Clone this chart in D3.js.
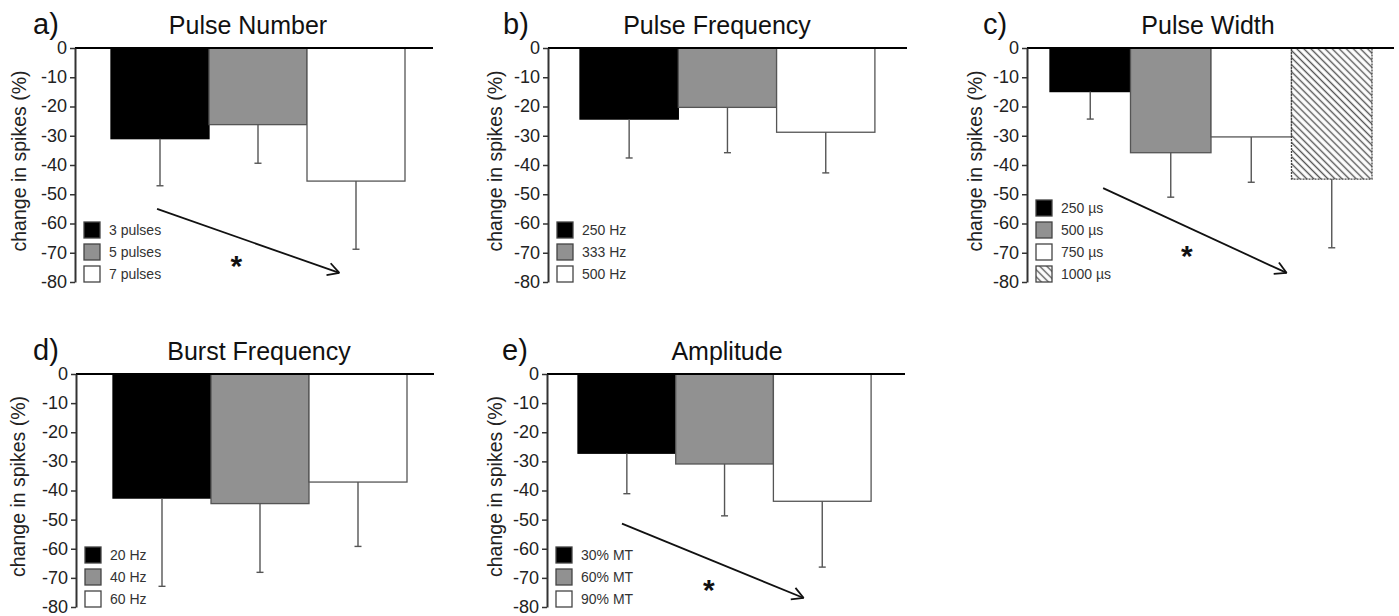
<!DOCTYPE html>
<html>
<head>
<meta charset="utf-8">
<script src="https://cdn.jsdelivr.net/npm/d3@7"></script>
<style>
  body { margin: 0; background: #fff; }
  svg { display: block; }
  text { font-family: "Liberation Sans", Arial, sans-serif; }
</style>
</head>
<body>
<div id="chart"></div>
<script>
// values (bar mean, and lower end of the error bar)
var yTicks = [0, -10, -20, -30, -40, -50, -60, -70, -80];

var numberCats = ["3 pulses", "5 pulses", "7 pulses"];
var numberMean = [-31, -26.2, -45.5];
var numberErr = [-47.1, -39.4, -68.8];

var freqCats = ["250 Hz", "333 Hz", "500 Hz"];
var freqMean = [-24.3, -20.3, -28.8];
var freqErr = [-37.6, -35.8, -42.7];

var widthCats = ["250 µs", "500 µs", "750 µs", "1000 µs"];
var widthMean = [-14.9, -35.8, -30.4, -44.8];
var widthErr = [-24.3, -51, -45.9, -68.3];

var burstCats = ["20 Hz", "40 Hz", "60 Hz"];
var burstMean = [-42.6, -44.5, -37.1];
var burstErr = [-72.9, -68.1, -59.2];

var ampCats = ["30% MT", "60% MT", "90% MT"];
var ampMean = [-27.2, -30.9, -43.7];
var ampErr = [-41.1, -48.7, -66.3];

var svgWidth = 1399;
var svgHeight = 616;

var svg = d3.select("#chart")
  .append("svg")
  .attr("width", svgWidth)
  .attr("height", svgHeight);

// hatch for the 1000 µs bar
var defs = svg.append("defs");
var hatch = defs.append("pattern")
  .attr("id", "hatch")
  .attr("patternUnits", "userSpaceOnUse")
  .attr("width", 5)
  .attr("height", 5)
  .attr("patternTransform", "rotate(45)");
hatch.append("rect").attr("width", 5).attr("height", 5).attr("fill", "#fff");
hatch.append("line")
  .attr("x1", 0).attr("y1", 2.5).attr("x2", 5).attr("y2", 2.5)
  .attr("stroke", "#555").attr("stroke-width", 1.4);

var fills = ["#000", "#919191", "#fff", "url(#hatch)"];
var strokes = ["#000", "#555", "#555", "#444"];

// layout for each panel (pixels)
var panels = [
  { tag: "a)", title: "Pulse Number", cats: numberCats, mean: numberMean, err: numberErr,
    axisX: 75, top: 48, bottom: 282, barX: 111, barW: 98, lineEnd: 433,
    tagX: 33, titleX: 248, labelX: 19,
    arrow: { x1: 0.47, y1: -55, x2: 2.33, y2: -76.9, sx: 1.28, sy: -72.5 } },
  { tag: "b)", title: "Pulse Frequency", cats: freqCats, mean: freqMean, err: freqErr,
    axisX: 548, top: 48, bottom: 282, barX: 580, barW: 98.3, lineEnd: 907,
    tagX: 503, titleX: 717, labelX: 495 },
  { tag: "c)", title: "Pulse Width", cats: widthCats, mean: widthMean, err: widthErr,
    axisX: 1027, top: 48, bottom: 282, barX: 1050, barW: 80.5, lineEnd: 1394,
    tagX: 983, titleX: 1208, labelX: 975,
    arrow: { x1: 0.66, y1: -47.9, x2: 2.94, y2: -76.9, sx: 1.7, sy: -69 } },
  { tag: "d)", title: "Burst Frequency", cats: burstCats, mean: burstMean, err: burstErr,
    axisX: 76, top: 374, bottom: 607, barX: 113, barW: 98, lineEnd: 434,
    tagX: 33, titleX: 259, labelX: 18 },
  { tag: "e)", title: "Amplitude", cats: ampCats, mean: ampMean, err: ampErr,
    axisX: 547, top: 374, bottom: 607, barX: 578, barW: 97.7, lineEnd: 905,
    tagX: 502, titleX: 727, labelX: 495,
    arrow: { x1: 0.45, y1: -51.4, x2: 2.31, y2: -76.9, sx: 1.34, sy: -72.2 } }
];

panels.forEach(function(p) {
  var g = svg.append("g");

  var y = d3.scaleLinear().domain([0, -80]).range([p.top, p.bottom]);
  var x = d3.scaleBand()
    .domain(p.cats)
    .range([p.barX, p.barX + p.barW * p.cats.length])
    .padding(0);
  // band units -> pixels, for the trend arrows
  var xb = d3.scaleLinear().domain([0, 1]).range([p.barX, p.barX + x.bandwidth()]);

  var data = p.cats.map(function(c, i) {
    return { cat: c, mean: p.mean[i], err: p.err[i], i: i };
  });

  // bars
  g.selectAll("rect.bar")
    .data(data)
    .enter()
    .append("rect")
    .attr("class", "bar")
    .attr("x", d => x(d.cat))
    .attr("y", y(0))
    .attr("width", x.bandwidth())
    .attr("height", d => y(d.mean) - y(0))
    .attr("fill", d => fills[d.i])
    .attr("stroke", d => strokes[d.i])
    .attr("stroke-width", 1.3)
    .attr("stroke-dasharray", d => d.i == 3 ? "2,1" : null);

  // error bars
  g.selectAll("line.err")
    .data(data)
    .enter()
    .append("line")
    .attr("x1", d => x(d.cat) + x.bandwidth() / 2)
    .attr("x2", d => x(d.cat) + x.bandwidth() / 2)
    .attr("y1", d => y(d.mean))
    .attr("y2", d => y(d.err))
    .attr("stroke", "#555")
    .attr("stroke-width", 1.4);

  g.selectAll("line.cap")
    .data(data)
    .enter()
    .append("line")
    .attr("x1", d => x(d.cat) + x.bandwidth() / 2 - 3.5)
    .attr("x2", d => x(d.cat) + x.bandwidth() / 2 + 3.5)
    .attr("y1", d => y(d.err))
    .attr("y2", d => y(d.err))
    .attr("stroke", "#555")
    .attr("stroke-width", 1.4);

  // zero line
  g.append("line")
    .attr("x1", p.axisX)
    .attr("x2", p.lineEnd)
    .attr("y1", y(0))
    .attr("y2", y(0))
    .attr("stroke", "#000")
    .attr("stroke-width", 2);

  // y axis
  var leftAxis = d3.axisLeft(y)
    .tickValues(yTicks)
    .tickSize(5)
    .tickSizeOuter(0)
    .tickPadding(3)
    .tickFormat(d3.format("d"));

  var ax = g.append("g")
    .attr("transform", `translate(${p.axisX}, 0)`)
    .call(leftAxis);
  ax.select(".domain").attr("stroke", "#333").attr("stroke-width", 2);
  ax.selectAll(".tick line").attr("stroke", "#333").attr("stroke-width", 1.5);
  ax.selectAll(".tick text")
    .attr("font-size", 18)
    .attr("font-family", "Liberation Sans, Arial, sans-serif")
    .attr("fill", "#222")
    .attr("dy", "0.3em")
    .text(d => d == 0 ? "0" : "-" + Math.abs(d));

  // axis label
  g.append("text")
    .attr("transform", `translate(${p.labelX}, ${(p.top + p.bottom) / 2 - 4}) rotate(-90)`)
    .attr("text-anchor", "middle")
    .attr("dy", "0.35em")
    .attr("font-size", 19.5)
    .attr("fill", "#222")
    .text("change in spikes (%)");

  // title and panel tag
  g.append("text")
    .attr("x", p.titleX)
    .attr("y", p.top - 14)
    .attr("text-anchor", "middle")
    .attr("font-size", 25)
    .attr("fill", "#111")
    .text(p.title);

  g.append("text")
    .attr("x", p.tagX)
    .attr("y", p.top - 14)
    .attr("font-size", 29)
    .attr("fill", "#111")
    .text(p.tag);

  // legend, bottom row sits on the -80 level
  var n = p.cats.length;
  var leg = g.selectAll("g.leg")
    .data(data)
    .enter()
    .append("g")
    .attr("transform", d => `translate(${p.axisX + 9}, ${p.bottom - 16 - (n - 1 - d.i) * 22})`);

  leg.append("rect")
    .attr("width", 16)
    .attr("height", 16)
    .attr("fill", d => fills[d.i])
    .attr("stroke", "#444")
    .attr("stroke-width", 1.3);

  leg.append("text")
    .attr("x", 25)
    .attr("y", 8)
    .attr("dy", "0.36em")
    .attr("font-size", 14)
    .attr("fill", "#333")
    .text(d => d.cat);

  // trend arrow with star
  if (p.arrow) {
    var a = p.arrow;
    var x1 = xb(a.x1), y1 = y(a.y1), x2 = xb(a.x2), y2 = y(a.y2);
    g.append("line")
      .attr("x1", x1).attr("y1", y1)
      .attr("x2", x2).attr("y2", y2)
      .attr("stroke", "#111")
      .attr("stroke-width", 1.8);
    var ang = Math.atan2(y2 - y1, x2 - x1);
    [-0.5, 0.5].forEach(function(da) {
      g.append("line")
        .attr("x1", x2).attr("y1", y2)
        .attr("x2", x2 - 13 * Math.cos(ang + da))
        .attr("y2", y2 - 13 * Math.sin(ang + da))
        .attr("stroke", "#111")
        .attr("stroke-width", 1.8);
    });
    g.append("text")
      .attr("x", xb(a.sx))
      .attr("y", y(a.sy) + 16)
      .attr("text-anchor", "middle")
      .attr("font-size", 30)
      .attr("font-weight", "bold")
      .attr("fill", "#111")
      .text("*");
  }
});
</script>
</body>
</html>
